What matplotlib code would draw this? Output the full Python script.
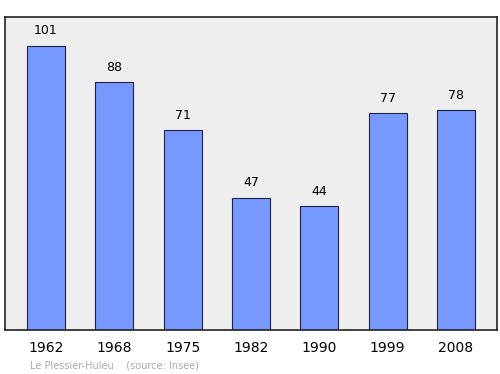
import matplotlib
matplotlib.use("Agg")
import matplotlib.pyplot as plt

# data
years = ["1962", "1968", "1975", "1982", "1990", "1999", "2008"]
population = [101, 88, 71, 47, 44, 77, 78]

fig = plt.figure(figsize=(5, 3.74), dpi=100)
ax = fig.add_axes([0.01, 0.118, 0.984, 0.837])
ax.set_facecolor("#eeeeee")

x = list(range(len(years)))
ax.bar(x, population, width=0.56, color="#7799ff", edgecolor="#222244", linewidth=0.8)

for xi, v in zip(x, population):
    ax.annotate(str(v), (xi, v), xytext=(0, 6), textcoords="offset points",
                ha="center", va="bottom", fontsize=9)

ax.set_xlim(-0.6, 6.6)
ax.set_ylim(0, 111.3)
ax.set_yticks([])
ax.set_xticks(x)
ax.set_xticklabels(years, fontsize=10)
ax.tick_params(axis="x", length=0, pad=8)
for s in ax.spines.values():
    s.set_linewidth(1.2)
    s.set_color("#222222")

fig.text(0.06, 0.015, "Le Plessier-Huleu    (source: Insee)", fontsize=7, color="#aaaaaa")

fig.savefig("out.png", dpi=100)
